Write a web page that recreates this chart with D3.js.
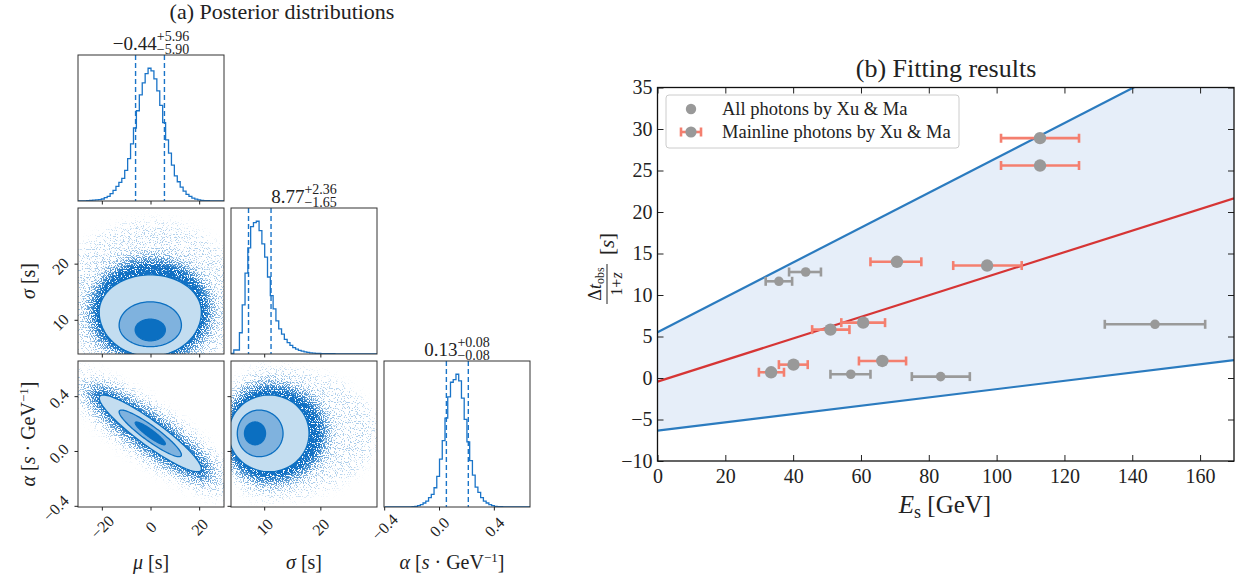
<!DOCTYPE html>
<html lang="en">
<head>
<meta charset="UTF-8">
<title>Posterior distributions and fitting results</title>
<style>
  body { margin: 0; background: #fff; }
  svg { display: block; font-family: "Liberation Serif", "DejaVu Serif", serif; }
  .frame { fill: none; stroke: #333; stroke-width: 1; }
</style>
</head>
<body>
<svg id="chart" width="1247" height="580"></svg>
<script src="https://cdn.jsdelivr.net/npm/d3@7"></script>
<script>
// ---------------- (a) posterior samples ----------------
const muRange = [-30, 30];
const sigmaRange = [4, 30];
const alphaRange = [-0.405, 0.66];

const muTicks = [-20, 0, 20];
const sigmaTicks = [10, 20];
const alphaTicks = [-0.4, 0.0, 0.4];

// histogram bins (relative counts, peak = 1)
const muBinStart = -30, muBinWidth = 1.2;
const muCounts = [0, 0, 0, 0.003, 0.005, 0.007, 0.008, 0.01, 0.015, 0.025,
  0.035, 0.055, 0.08, 0.11, 0.14, 0.17, 0.23, 0.32, 0.43, 0.55,
  0.68, 0.8, 0.89, 0.96, 1.0, 0.98, 0.92, 0.83, 0.72, 0.59,
  0.46, 0.36, 0.27, 0.19, 0.145, 0.105, 0.075, 0.05, 0.035, 0.022,
  0.014, 0.008, 0.005, 0.003, 0.002, 0.001, 0, 0, 0, 0];

const sigmaBinStart = 4, sigmaBinWidth = 0.5;
const sigmaCounts = [0.005, 0.03, 0.03, 0.16, 0.37, 0.61, 0.8, 0.96, 0.99, 1.0,
  0.93, 0.83, 0.73, 0.58, 0.44, 0.34, 0.25, 0.19, 0.15, 0.11,
  0.085, 0.065, 0.048, 0.036, 0.028, 0.022, 0.016, 0.012, 0.009, 0.007,
  0.005, 0.004, 0.003, 0.002, 0.002, 0.002, 0.002, 0.001, 0.001, 0.001,
  0.001, 0.001, 0.001, 0.001, 0.001, 0, 0, 0, 0, 0, 0, 0];

const alphaBinStart = -0.4, alphaBinWidth = 0.02;
const alphaCounts = [0, 0, 0, 0, 0, 0, 0, 0, 0, 0.001,
  0.002, 0.004, 0.01, 0.018, 0.03, 0.045, 0.07, 0.095, 0.145, 0.23,
  0.36, 0.5, 0.67, 0.83, 0.94, 0.96, 1.0, 0.95, 0.82, 0.66,
  0.49, 0.35, 0.24, 0.15, 0.11, 0.07, 0.045, 0.03, 0.018, 0.01,
  0.005, 0.003, 0.002, 0.001, 0, 0, 0, 0, 0, 0, 0, 0, 0];

// 16% / 84% quantiles (dashed lines)
const muQuantiles = [-6.34, 5.52];
const sigmaQuantiles = [7.12, 11.13];
const alphaQuantiles = [0.05, 0.21];

// panel titles: median, +err, -err
const muTitle = ['\u22120.44', '+5.96', '\u22125.90'];
const sigmaTitle = ['8.77', '+2.36', '\u22121.65'];
const alphaTitle = ['0.13', '+0.08', '\u22120.08'];

// 2D contours (outer, middle, inner): centre, half extents left/right/bottom/top, correlation
const sigmaMuContours = [
  { cx: -0.3, cy: 11.5, xl: 21, xr: 21, yb: 7.9, yt: 6.6, rho: 0 },
  { cx: -0.3, cy: 9.1, xl: 12.8, xr: 12.8, yb: 3.8, yt: 4.2, rho: 0 },
  { cx: -0.3, cy: 8.3, xl: 6.2, xr: 6.2, yb: 1.95, yt: 1.9, rho: 0 }
];
const alphaMuContours = [
  { cx: -0.3, cy: 0.132, xl: 21, xr: 21, yb: 0.28, yt: 0.28, rho: -0.92 },
  { cx: -0.3, cy: 0.132, xl: 12.8, xr: 12.8, yb: 0.17, yt: 0.17, rho: -0.92 },
  { cx: -0.3, cy: 0.132, xl: 6.2, xr: 6.2, yb: 0.083, yt: 0.083, rho: -0.92 }
];
const alphaSigmaContours = [
  { cx: 10.8, cy: 0.132, xl: 7.2, xr: 7.1, yb: 0.28, yt: 0.28, rho: 0 },
  { cx: 9.0, cy: 0.132, xl: 3.88, xr: 4.27, yb: 0.17, yt: 0.17, rho: 0 },
  { cx: 8.3, cy: 0.132, xl: 1.9, xr: 1.85, yb: 0.083, yt: 0.083, rho: 0 }
];
// extent of the scattered samples around the contours (dense core, sparse halo)
const sigmaMuCloud = [
  { cx: -0.3, cy: 11.5, xl: 25, xr: 25, yb: 9, yt: 9.5, rho: 0, w: 1 },
  { cx: -0.3, cy: 12, xl: 40, xr: 40, yb: 12, yt: 16, rho: 0, w: 0.3 }
];
const alphaMuCloud = [
  { cx: -0.3, cy: 0.132, xl: 26, xr: 26, yb: 0.35, yt: 0.35, rho: -0.9, w: 1 },
  { cx: -0.3, cy: 0.132, xl: 38, xr: 38, yb: 0.5, yt: 0.5, rho: -0.85, w: 0.3 }
];
const alphaSigmaCloud = [
  { cx: 10.5, cy: 0.132, xl: 8, xr: 10.5, yb: 0.36, yt: 0.36, rho: 0, w: 1 },
  { cx: 10.5, cy: 0.132, xl: 9, xr: 20, yb: 0.5, yt: 0.5, rho: 0, w: 0.3 }
];

// ---------------- (b) fitting results ----------------
const allE = [35.8, 43.7, 57.0, 83.5, 146.7];
const allELow = [31.9, 38.8, 51.0, 75.0, 131.9];
const allEHigh = [39.7, 48.2, 62.8, 92.1, 161.5];
const allDt = [11.65, 12.77, 0.45, 0.17, 6.47];

const mainE = [112.8, 112.8, 70.6, 97.2, 51.0, 60.65, 66.3, 33.5, 40.1];
const mainELow = [101.3, 101.3, 62.8, 87.2, 45.6, 54.2, 59.4, 29.9, 35.8];
const mainEHigh = [124.3, 124.3, 77.8, 107.4, 56.6, 67.1, 73.3, 37.3, 44.3];
const mainDt = [28.9, 25.6, 14.0, 13.55, 5.83, 6.67, 2.05, 0.69, 1.61];

const fitE = [0, 170];
const fitCenter = [-0.44, 21.66];
const fitUpper = [5.52, 41.22];
const fitLower = [-6.34, 2.16];

const eTicks = [0, 20, 40, 60, 80, 100, 120, 140, 160];
const dtTicks = [-10, -5, 0, 5, 10, 15, 20, 25, 30, 35];
const legendLabels = ['All photons by Xu & Ma', 'Mainline photons by Xu & Ma'];

// ---------------- drawing ----------------
const svg = d3.select('#chart');
const BLUE = '#0b6fc1', MID = '#7fb2de', LIGHT = '#c3ddf0', HIST = '#1a74c8';
const defs = svg.append('defs');

// speckle filter: turns a smooth density into scattered dots
const f = defs.append('filter').attr('id', 'cloud')
  .attr('x', '-10%').attr('y', '-10%').attr('width', '120%').attr('height', '120%')
  .attr('color-interpolation-filters', 'sRGB');
f.append('feGaussianBlur').attr('in', 'SourceAlpha').attr('stdDeviation', 8).attr('result', 'dens');
f.append('feTurbulence').attr('type', 'fractalNoise').attr('baseFrequency', 0.85)
  .attr('numOctaves', 1).attr('seed', 7).attr('result', 'turb');
f.append('feColorMatrix').attr('in', 'turb').attr('type', 'matrix')
  .attr('values', '0 0 0 0 0  0 0 0 0 0  0 0 0 0 0  3 0 0 0 -1.0').attr('result', 'noise');
f.append('feComposite').attr('in', 'dens').attr('in2', 'noise').attr('operator', 'arithmetic')
  .attr('k1', 0).attr('k2', 5).attr('k3', -5).attr('k4', 0.05).attr('result', 'mask');
f.append('feComposite').attr('in', 'mask').attr('in2', 'dens').attr('operator', 'arithmetic')
  .attr('k1', 1.15).attr('k2', 0).attr('k3', 0).attr('k4', 0).attr('result', 'mask2');
f.append('feFlood').attr('flood-color', '#1271c4').attr('result', 'fl');
f.append('feComposite').attr('in', 'fl').attr('in2', 'mask2').attr('operator', 'in');

const cell = 146;
const colX = [78, 231, 384];
const rowY = [55, 208, 361];
const params = ['mu', 'sigma', 'alpha'];
const ranges = { mu: muRange, sigma: sigmaRange, alpha: alphaRange };
const ticks = { mu: muTicks, sigma: sigmaTicks, alpha: alphaTicks };
const fmt = { mu: d3.format('d'), sigma: d3.format('d'), alpha: d3.format('.1f') };
const hists = {
  mu: [muBinStart, muBinWidth, muCounts, muQuantiles, muTitle],
  sigma: [sigmaBinStart, sigmaBinWidth, sigmaCounts, sigmaQuantiles, sigmaTitle],
  alpha: [alphaBinStart, alphaBinWidth, alphaCounts, alphaQuantiles, alphaTitle]
};
const pairs = {
  'sigma-mu': [sigmaMuContours, sigmaMuCloud],
  'alpha-mu': [alphaMuContours, alphaMuCloud],
  'alpha-sigma': [alphaSigmaContours, alphaSigmaCloud]
};

function blobPath(b, xs, ys) {
  const s = Math.sqrt(1 - b.rho * b.rho);
  const pts = d3.range(0, 360, 3).map(deg => {
    const t = deg * Math.PI / 180;
    const u = Math.cos(t), v = b.rho * Math.cos(t) + s * Math.sin(t);
    const dx = u < 0 ? u * b.xl : u * b.xr;
    const dy = v < 0 ? v * b.yb : v * b.yt;
    return [xs(b.cx + dx), ys(b.cy + dy)];
  });
  return d3.line()(pts) + 'Z';
}

function valueTitle(cx, baseline, parts) {
  const g = svg.append('g').attr('fill', '#222');
  const main = g.append('text').attr('y', baseline).attr('font-size', 19).text(parts[0]);
  const mw = main.node().getComputedTextLength();
  const sup = g.append('text').attr('x', mw).attr('y', baseline - 9).attr('font-size', 14).text(parts[1]);
  const sub = g.append('text').attr('x', mw).attr('y', baseline + 4).attr('font-size', 14).text(parts[2]);
  const w = mw + Math.max(sup.node().getComputedTextLength(), sub.node().getComputedTextLength());
  g.attr('transform', `translate(${cx - w / 2},0)`);
}

params.forEach((py, row) => {
  params.forEach((px, col) => {
    if (col > row) return;
    const x0 = colX[col], y0 = rowY[row];
    const xs = d3.scaleLinear().domain(ranges[px]).range([x0, x0 + cell]);
    const ys = d3.scaleLinear().domain(ranges[py]).range([y0 + cell, y0]);
    const id = `clip-${row}-${col}`;
    defs.append('clipPath').attr('id', id).append('rect')
      .attr('x', x0).attr('y', y0).attr('width', cell).attr('height', cell);
    const g = svg.append('g').attr('clip-path', `url(#${id})`);

    if (row === col) {
      const [start, width, counts, quant, title] = hists[px];
      const hy = d3.scaleLinear().domain([0, 1.1 * d3.max(counts)]).range([y0 + cell, y0]);
      const pts = [[start, 0]];
      counts.forEach((c, k) => { pts.push([start + k * width, c], [start + (k + 1) * width, c]); });
      pts.push([start + counts.length * width, 0]);
      g.append('path').attr('d', d3.line().x(d => xs(d[0])).y(d => hy(d[1]))(pts))
        .attr('fill', 'none').attr('stroke', HIST).attr('stroke-width', 1.3);
      g.selectAll('.q').data(quant).enter().append('line')
        .attr('x1', d => xs(d)).attr('x2', d => xs(d)).attr('y1', y0).attr('y2', y0 + cell)
        .attr('stroke', HIST).attr('stroke-width', 1.4).attr('stroke-dasharray', '5,3');
      valueTitle(x0 + cell / 2, y0 - 5, title);
    } else {
      const [contours, cloud] = pairs[`${py}-${px}`];
      const cg = g.append('g').attr('filter', 'url(#cloud)');
      cloud.slice().reverse().forEach(b => {
        cg.append('path').attr('d', blobPath(b, xs, ys)).attr('fill', '#000').attr('fill-opacity', b.w);
      });
      const fills = [LIGHT, MID, BLUE];
      contours.forEach((b, k) => {
        g.append('path').attr('d', blobPath(b, xs, ys))
          .attr('fill', fills[k]).attr('stroke', BLUE).attr('stroke-width', 1.3);
      });
    }

    svg.append('rect').attr('class', 'frame')
      .attr('x', x0).attr('y', y0).attr('width', cell).attr('height', cell);

    // bottom ticks
    const bx = svg.append('g');
    ticks[px].forEach(t => {
      bx.append('line').attr('x1', xs(t)).attr('x2', xs(t))
        .attr('y1', y0 + cell).attr('y2', y0 + cell + 3.5).attr('stroke', '#222');
      if (row === 2) {
        bx.append('text').attr('font-size', 16).attr('text-anchor', 'middle')
          .attr('dominant-baseline', 'central').attr('fill', '#222')
          .attr('transform', `translate(${xs(t)},${y0 + cell + 20}) rotate(-45)`)
          .text(fmt[px](t));
      }
    });
    // left ticks
    if (row !== col) {
      ticks[py].forEach(t => {
        svg.append('line').attr('x1', x0).attr('x2', x0 - 3.5)
          .attr('y1', ys(t)).attr('y2', ys(t)).attr('stroke', '#222');
        if (col === 0) {
          const txt = svg.append('text').attr('font-size', 16).attr('text-anchor', 'middle')
            .attr('dominant-baseline', 'central').attr('fill', '#222').text(fmt[py](t));
          const w = txt.node().getComputedTextLength();
          const half = (w + 11) * 0.707 / 2;
          txt.attr('transform', `translate(${x0 - 8 - half},${ys(t) + 2}) rotate(-45)`);
        }
      });
    }
  });
});

// corner axis labels
const labelStyle = s => s.attr('font-size', 20).attr('fill', '#222').attr('text-anchor', 'middle');
function muLabel(sel) { sel.append('tspan').attr('font-style', 'italic').text('\u03bc'); sel.append('tspan').text(' [s]'); }
function sigmaLabel(sel) { sel.append('tspan').attr('font-style', 'italic').text('\u03c3'); sel.append('tspan').text(' [s]'); }
function alphaLabel(sel) {
  sel.append('tspan').attr('font-style', 'italic').text('\u03b1');
  sel.append('tspan').text('  [');
  sel.append('tspan').attr('font-style', 'italic').text('s');
  sel.append('tspan').text(' \u00b7 GeV');
  sel.append('tspan').attr('font-size', 13).attr('dy', -7).text('\u22121');
  sel.append('tspan').attr('dy', 7).text(']');
}
svg.append('text').call(labelStyle).attr('x', 151).attr('y', 569).call(muLabel);
svg.append('text').call(labelStyle).attr('x', 304).attr('y', 569).call(sigmaLabel);
svg.append('text').call(labelStyle).attr('x', 452).attr('y', 569).call(alphaLabel);
svg.append('text').call(labelStyle).attr('transform', 'translate(35,281) rotate(-90)').call(sigmaLabel);
svg.append('text').call(labelStyle).attr('transform', 'translate(35,434) rotate(-90)').call(alphaLabel);
svg.append('text').attr('x', 282).attr('y', 19).attr('font-size', 22).attr('fill', '#222')
  .attr('text-anchor', 'middle').text('(a) Posterior distributions');

// ---------------- right panel ----------------
const L = 657.5, R = 1234, T = 87.5, B = 461;
const ex = d3.scaleLinear().domain([0, 170]).range([L, R]);
const dy = d3.scaleLinear().domain([-10, 35]).range([B, T]);

defs.append('clipPath').attr('id', 'clip-fit').append('rect')
  .attr('x', L).attr('y', T).attr('width', R - L).attr('height', B - T);
const fg = svg.append('g').attr('clip-path', 'url(#clip-fit)');
const band = fitE.map((e, i) => [e, fitLower[i], fitUpper[i]]);
fg.append('path').datum(band)
  .attr('d', d3.area().x(d => ex(d[0])).y0(d => dy(d[1])).y1(d => dy(d[2])))
  .attr('fill', '#e6eef9');
[[fitUpper, '#2b7bbf'], [fitLower, '#2b7bbf'], [fitCenter, '#d63535']].forEach(([ys, c]) => {
  fg.append('path').datum(fitE.map((e, i) => [e, ys[i]]))
    .attr('d', d3.line().x(d => ex(d[0])).y(d => dy(d[1])))
    .attr('fill', 'none').attr('stroke', c).attr('stroke-width', 2.2);
});

function errorBars(E, lo, hi, dt, color, r) {
  const g = fg.append('g');
  E.forEach((e, i) => {
    g.append('line').attr('x1', ex(lo[i])).attr('x2', ex(hi[i])).attr('y1', dy(dt[i])).attr('y2', dy(dt[i]))
      .attr('stroke', color).attr('stroke-width', 2.6);
    [lo[i], hi[i]].forEach(v => {
      g.append('line').attr('x1', ex(v)).attr('x2', ex(v)).attr('y1', dy(dt[i]) - 4.5).attr('y2', dy(dt[i]) + 4.5)
        .attr('stroke', color).attr('stroke-width', 2.6);
    });
  });
  g.selectAll('circle').data(E).enter().append('circle')
    .attr('cx', d => ex(d)).attr('cy', (d, i) => dy(dt[i])).attr('r', r).attr('fill', '#999');
}
errorBars(allE, allELow, allEHigh, allDt, '#9a9a9a', 4.8);
errorBars(mainE, mainELow, mainEHigh, mainDt, '#f47f6f', 6.2);

// axes with inward ticks
const axStyle = g => {
  g.select('.domain').remove();
  g.selectAll('text').attr('font-size', 20).attr('fill', '#222').attr('font-family', '"Liberation Serif", serif');
  g.selectAll('line').attr('stroke', '#222').attr('stroke-width', 1);
};
svg.append('g').attr('transform', `translate(0,${B})`)
  .call(d3.axisBottom(ex).tickValues(eTicks).tickFormat(d3.format('d')).tickSize(-6).tickPadding(8)).call(axStyle);
svg.append('g').attr('transform', `translate(0,${T})`)
  .call(d3.axisTop(ex).tickValues(eTicks).tickSize(-6).tickFormat('')).call(axStyle);
svg.append('g').attr('transform', `translate(${L},0)`)
  .call(d3.axisLeft(dy).tickValues(dtTicks).tickFormat(d3.format('d')).tickSize(-6).tickPadding(5)).call(axStyle);
svg.append('g').attr('transform', `translate(${R},0)`)
  .call(d3.axisRight(dy).tickValues(dtTicks).tickSize(-6).tickFormat('')).call(axStyle);
svg.append('rect').attr('x', L).attr('y', T).attr('width', R - L).attr('height', B - T)
  .attr('fill', 'none').attr('stroke', '#111').attr('stroke-width', 1.3);

// legend
const lg = svg.append('g');
lg.append('rect').attr('x', 666).attr('y', 95).attr('width', 293).attr('height', 53).attr('rx', 3)
  .attr('fill', '#fff').attr('fill-opacity', 0.8).attr('stroke', '#ccc');
lg.append('circle').attr('cx', 691).attr('cy', 109).attr('r', 5.2).attr('fill', '#999');
lg.append('line').attr('x1', 681).attr('x2', 701).attr('y1', 132).attr('y2', 132)
  .attr('stroke', '#f47f6f').attr('stroke-width', 2.6);
[681, 701].forEach(x => lg.append('line').attr('x1', x).attr('x2', x).attr('y1', 127.5).attr('y2', 136.5)
  .attr('stroke', '#f47f6f').attr('stroke-width', 2.6));
lg.append('circle').attr('cx', 691).attr('cy', 132).attr('r', 5.6).attr('fill', '#999');
legendLabels.forEach((t, i) => {
  lg.append('text').attr('x', 722).attr('y', 115 + i * 23).attr('font-size', 18.5).attr('fill', '#222').text(t);
});

// titles and labels
svg.append('text').attr('x', 946).attr('y', 77).attr('font-size', 26).attr('fill', '#222')
  .attr('text-anchor', 'middle').text('(b) Fitting results');
const xl = svg.append('text').attr('x', 945).attr('y', 513).attr('font-size', 25).attr('fill', '#222')
  .attr('text-anchor', 'middle');
xl.append('tspan').attr('font-style', 'italic').text('E');
xl.append('tspan').attr('font-size', 18).attr('dy', 5).text('s');
xl.append('tspan').attr('dy', -5).text(' [GeV]');

const yl = svg.append('g').attr('transform', 'translate(607,284) rotate(-90)').attr('fill', '#222');
const num = yl.append('text').attr('y', -6).attr('font-size', 18).attr('text-anchor', 'middle');
num.append('tspan').text('\u0394');
num.append('tspan').attr('font-style', 'italic').text('t');
num.append('tspan').attr('font-size', 12).attr('dy', 3).text('obs');
yl.append('line').attr('x1', -20).attr('x2', 20).attr('y1', 0).attr('y2', 0).attr('stroke', '#222').attr('stroke-width', 1);
const den = yl.append('text').attr('y', 15).attr('font-size', 16).attr('text-anchor', 'middle');
den.append('tspan').text('1+');
den.append('tspan').attr('font-style', 'italic').text('z');
const br = yl.append('text').attr('x', 40).attr('y', 7).attr('font-size', 21).attr('text-anchor', 'middle');
br.append('tspan').text('[');
br.append('tspan').attr('font-style', 'italic').text('s');
br.append('tspan').text(']');
</script>
</body>
</html>
